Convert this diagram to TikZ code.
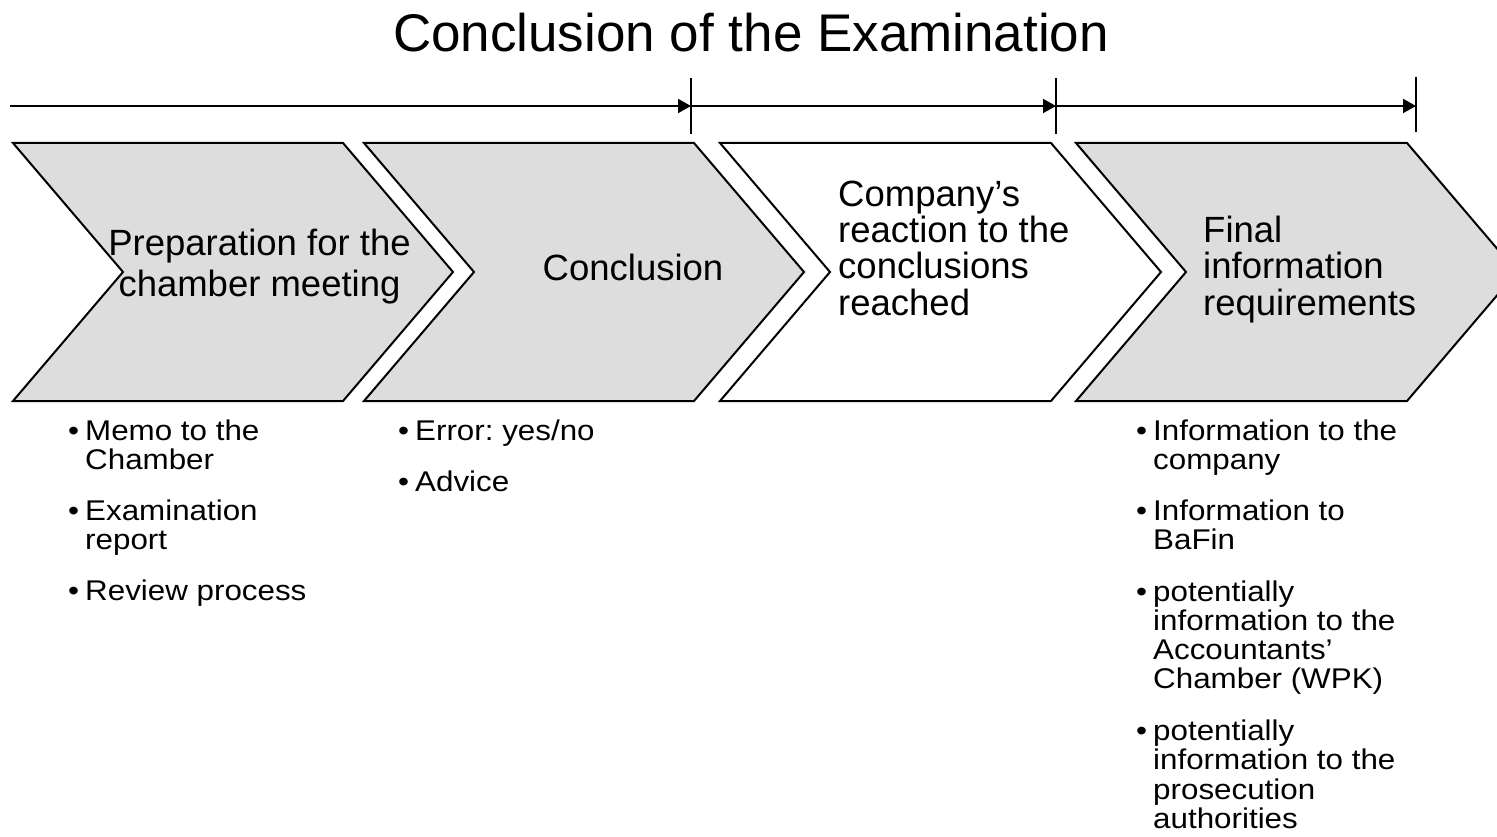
\documentclass[tikz,border=0pt]{standalone}
\usepackage{fontspec}
\setmainfont{Liberation Sans}
\newfontfamily\bulfont{Liberation Sans}[FakeStretch=1.1]
\usetikzlibrary{arrows.meta}
\definecolor{chevfill}{HTML}{DDDDDD}
\frenchspacing
\begin{document}
\begin{tikzpicture}[x=1pt,y=-1pt,
  chevgray/.style={draw=black,fill=chevfill,line width=2pt,line join=miter},
  chevwhite/.style={draw=black,fill=white,line width=2pt,line join=miter},
  titletext/.style={inner sep=0pt,anchor=base,font=\fontsize{53}{60}\selectfont},
  chevtext/.style={inner sep=0pt,font=\fontsize{36.5}{36.5}\selectfont},
  bultext/.style={inner sep=0pt,anchor=base west,align=left,font=\bulfont\fontsize{28.5}{29.3}\selectfont},
  timeline/.style={line width=2pt,-{Triangle[length=13pt,width=14pt]}},
  tickmark/.style={line width=1.6pt}]
\useasboundingbox (0,0) rectangle (1497,837);
\clip (0,0) rectangle (1497,837);

% title
\node[titletext] (title) at (751,52) {Conclusion of the Examination};

% timeline
\coordinate (t0) at (10,106);
\coordinate (t1) at (691,106);
\coordinate (t2) at (1056,106);
\coordinate (t3) at (1416,106);
\coordinate (t1a) at (691,78);  \coordinate (t1b) at (691,134);
\coordinate (t2a) at (1056,78); \coordinate (t2b) at (1056,134);
\coordinate (t3a) at (1416,77); \coordinate (t3b) at (1416,132);
\draw[timeline] (t0) -- (t1);
\draw[timeline] (t1) -- (t2);
\draw[timeline] (t2) -- (t3);
\draw[tickmark] (t1a) -- (t1b);
\draw[tickmark] (t2a) -- (t2b);
\draw[tickmark] (t3a) -- (t3b);

% chevrons
\path[chevgray]  (13,143) -- (343,143) -- (453,272) -- (343,401) -- (13,401) -- (123,272) -- cycle;
\path[chevgray]  (364,143) -- (694,143) -- (804,272) -- (694,401) -- (364,401) -- (474,272) -- cycle;
\path[chevwhite] (720,143) -- (1051,143) -- (1161,272) -- (1051,401) -- (720,401) -- (830,272) -- cycle;
\path[chevgray]  (1076,143) -- (1407,143) -- (1517,272) -- (1407,401) -- (1076,401) -- (1186,272) -- cycle;

% chevron texts (base anchor = baseline of the last line)
\node[chevtext,anchor=base,align=center,font=\fontsize{36.5}{41.7}\selectfont] (c1) at (259.5,296.7) {Preparation for the\\chamber meeting};
\node[chevtext,anchor=base] (c2) at (633,280) {Conclusion};
\node[chevtext,anchor=base west,align=left] (c3) at (838,315.5) {Company’s\\reaction to the\\conclusions\\reached};
\node[chevtext,anchor=base west,align=left] (c4) at (1203,315) {Final\\information\\requirements};

% bullets column 1
\node[bultext] (a1) at (85,469.3) {\llap{•\hspace{6pt}}Memo to the\\Chamber};
\node[bultext] (a2) at (85,549.3) {\llap{•\hspace{6pt}}Examination\\report};
\node[bultext] (a3) at (85,600) {\llap{•\hspace{6pt}}Review process};

% bullets column 2
\node[bultext] (b1) at (415,440) {\llap{•\hspace{6pt}}Error: yes/no};
\node[bultext] (b2) at (415,491.7) {\llap{•\hspace{6pt}}Advice};

% bullets column 4
\node[bultext] (d1) at (1153,469.3) {\llap{•\hspace{6pt}}Information to the\\company};
\node[bultext] (d2) at (1153,549.3) {\llap{•\hspace{6pt}}Information to\\BaFin};
\node[bultext] (d3) at (1153,688.9) {\llap{•\hspace{6pt}}potentially\\information to the\\Accountants’\\Chamber (WPK)};
\node[bultext] (d4) at (1153,828.5) {\llap{•\hspace{6pt}}potentially\\information to the\\prosecution\\authorities};
\end{tikzpicture}
\end{document}
